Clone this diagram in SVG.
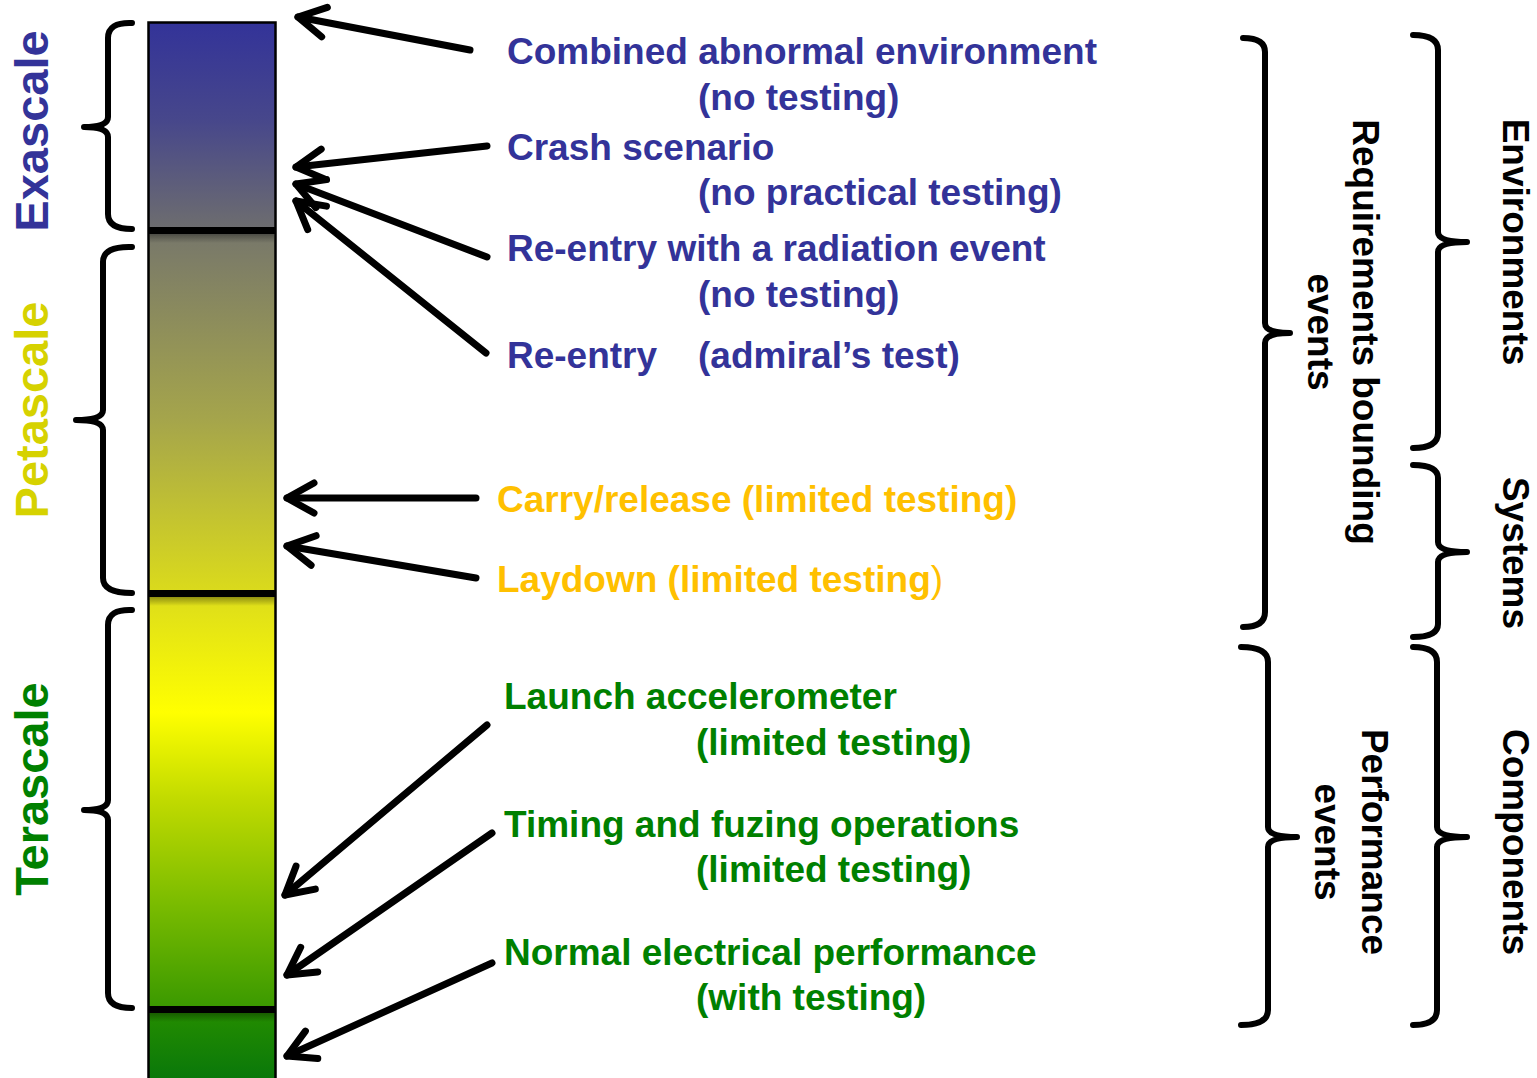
<svg xmlns="http://www.w3.org/2000/svg" width="1537" height="1078" viewBox="0 0 1537 1078">
  <defs>
    <linearGradient id="scaleFill" gradientUnits="userSpaceOnUse" x1="0" y1="22" x2="0" y2="1078">
      <stop offset="0" stop-color="#333399"/>
      <stop offset="0.093" stop-color="#47478b"/>
      <stop offset="0.195" stop-color="#6d6d6f"/>
      <stop offset="0.2027" stop-color="#78786a"/>
      <stop offset="0.377" stop-color="#a5a54b"/>
      <stop offset="0.538" stop-color="#dada1c"/>
      <stop offset="0.5473" stop-color="#dede1a"/>
      <stop offset="0.654" stop-color="#ffff00"/>
      <stop offset="0.737" stop-color="#c0da00"/>
      <stop offset="0.831" stop-color="#7dbd00"/>
      <stop offset="0.9309" stop-color="#3c9a00"/>
      <stop offset="0.940" stop-color="#238c00"/>
      <stop offset="1" stop-color="#0a780a"/>
    </linearGradient>
    <linearGradient id="dividerShade" x1="0" y1="0" x2="0" y2="1">
      <stop offset="0" stop-color="#000" stop-opacity="0.35"/>
      <stop offset="1" stop-color="#000" stop-opacity="0"/>
    </linearGradient>
    <marker id="head" markerUnits="userSpaceOnUse" viewBox="-40 -30 50 60" refX="0" refY="0" markerWidth="50" markerHeight="60" orient="auto" overflow="visible">
      <path d="M -27 -15 L 0 0 L -27 15" fill="none" stroke="#000" stroke-width="7" stroke-linecap="round" stroke-linejoin="round"/>
    </marker>
  </defs>
  <style>
    .lbl { font-family: "Liberation Sans", Arial, sans-serif; font-weight: bold; font-size: 37px; }
    .blue { fill: #333399; }
    .gold { fill: #ffc000; }
    .green { fill: #008000; }
    .side { font-family: "Liberation Sans", Arial, sans-serif; font-weight: bold; font-size: 37px; fill: #000; text-anchor: middle; }
    .scale { font-family: "Liberation Sans", Arial, sans-serif; font-weight: bold; font-size: 47px; text-anchor: middle; }
    .brace { fill: none; stroke: #000; stroke-width: 6; stroke-linecap: round; stroke-linejoin: round; }
    .arrow { fill: none; stroke: #000; stroke-width: 7; stroke-linecap: round; marker-end: url(#head); }
  </style>

  <!-- graded scale bar -->
  <g id="scale-bar">
    <rect x="148.5" y="22.5" width="127" height="1065" fill="url(#scaleFill)" stroke="#000" stroke-width="2.5"/>
    <rect x="150" y="234" width="124" height="9" fill="url(#dividerShade)"/>
    <rect x="150" y="597" width="124" height="9" fill="url(#dividerShade)"/>
    <rect x="150" y="1013" width="124" height="9" fill="url(#dividerShade)"/>
    <rect x="148" y="227" width="128" height="7" fill="#000"/>
    <rect x="148" y="590" width="128" height="7" fill="#000"/>
    <rect x="148" y="1006" width="128" height="7" fill="#000"/>
  </g>

  <!-- scale names with their braces -->
  <g id="exascale">
    <path class="brace" d="M 132 23 Q 108 22 108 38 L 108 117 Q 108 127 84 127 Q 108 127 108 137 L 108 214 Q 108 229 132 229"/>
    <text class="scale" fill="#333399" transform="translate(48,131) rotate(-90)">Exascale</text>
  </g>
  <g id="petascale">
    <path class="brace" d="M 132 247 Q 103 246 103 262 L 103 410 Q 103 420 76 420 Q 103 420 103 430 L 103 578 Q 103 593 132 593"/>
    <text class="scale" fill="#d6d200" transform="translate(48,410) rotate(-90)">Petascale</text>
  </g>
  <g id="terascale">
    <path class="brace" d="M 132 610 Q 108 609 108 625 L 108 800 Q 108 810 84 810 Q 108 810 108 820 L 108 993 Q 108 1008 132 1008"/>
    <text class="scale" fill="#008000" transform="translate(48,789) rotate(-90)">Terascale</text>
  </g>

  <!-- event labels -->
  <g id="combined-abnormal">
    <text class="lbl blue" x="507" y="64">Combined abnormal environment</text>
    <text class="lbl blue" x="698" y="110">(no testing)</text>
  </g>
  <g id="crash-scenario">
    <text class="lbl blue" x="507" y="160">Crash scenario</text>
    <text class="lbl blue" x="698" y="205">(no practical testing)</text>
  </g>
  <g id="reentry-radiation">
    <text class="lbl blue" x="507" y="261">Re-entry with a radiation event</text>
    <text class="lbl blue" x="698" y="307">(no testing)</text>
  </g>
  <g id="reentry">
    <text class="lbl blue" x="507" y="368">Re-entry<tspan x="698">(admiral’s test)</tspan></text>
  </g>
  <g id="carry-release">
    <text class="lbl gold" x="497" y="512">Carry/release (limited testing)</text>
  </g>
  <g id="laydown">
    <text class="lbl gold" x="497" y="592">Laydown (limited testing<tspan font-weight="normal">)</tspan></text>
  </g>
  <g id="launch-accelerometer">
    <text class="lbl green" x="504" y="709">Launch accelerometer</text>
    <text class="lbl green" x="696" y="755">(limited testing)</text>
  </g>
  <g id="timing-fuzing">
    <text class="lbl green" x="504" y="837">Timing and fuzing operations</text>
    <text class="lbl green" x="696" y="882">(limited testing)</text>
  </g>
  <g id="normal-electrical">
    <text class="lbl green" x="504" y="965">Normal electrical performance</text>
    <text class="lbl green" x="696" y="1010">(with testing)</text>
  </g>

  <!-- arrows from each event to its level on the bar -->
  <g id="connectors">
    <path class="arrow" d="M 470 50 L 298 17"/>
    <path class="arrow" d="M 487 146 L 296 167"/>
    <path class="arrow" d="M 487 257 L 296 184"/>
    <path class="arrow" d="M 486 353 L 296 201"/>
    <path class="arrow" d="M 476 498 L 287 498"/>
    <path class="arrow" d="M 476 578 L 287 546"/>
    <path class="arrow" d="M 487 725 L 285 895"/>
    <path class="arrow" d="M 492 833 L 287 975"/>
    <path class="arrow" d="M 492 963 L 287 1056"/>
  </g>

  <!-- event classes on the right -->
  <g id="requirements-bounding">
    <path class="brace" d="M 1243 38 Q 1265 38 1265 52 L 1265 323 Q 1265 333 1290 333 Q 1265 333 1265 343 L 1265 612 Q 1265 627 1243 627"/>
    <text class="side" transform="translate(1353,332) rotate(90)">Requirements bounding</text>
    <text class="side" transform="translate(1308,332) rotate(90)">events</text>
  </g>
  <g id="performance-events">
    <path class="brace" d="M 1241 647 Q 1268 647 1268 662 L 1268 827 Q 1268 837 1297 837 Q 1268 837 1268 847 L 1268 1010 Q 1268 1025 1241 1025"/>
    <text class="side" transform="translate(1362,842) rotate(90)">Performance</text>
    <text class="side" transform="translate(1315,842) rotate(90)">events</text>
  </g>
  <g id="environments">
    <path class="brace" d="M 1413 35 Q 1438 35 1438 50 L 1438 232 Q 1438 242 1467 242 Q 1438 242 1438 252 L 1438 433 Q 1438 448 1413 448"/>
    <text class="side" transform="translate(1503,242) rotate(90)">Environments</text>
  </g>
  <g id="systems">
    <path class="brace" d="M 1413 465 Q 1438 465 1438 478 L 1438 542 Q 1438 552 1467 552 Q 1438 552 1438 562 L 1438 624 Q 1438 637 1413 637"/>
    <text class="side" transform="translate(1503,553) rotate(90)">Systems</text>
  </g>
  <g id="components">
    <path class="brace" d="M 1413 647 Q 1437 647 1437 662 L 1437 827 Q 1437 837 1467 837 Q 1437 837 1437 847 L 1437 1010 Q 1437 1025 1413 1025"/>
    <text class="side" transform="translate(1503,842) rotate(90)">Components</text>
  </g>
</svg>
